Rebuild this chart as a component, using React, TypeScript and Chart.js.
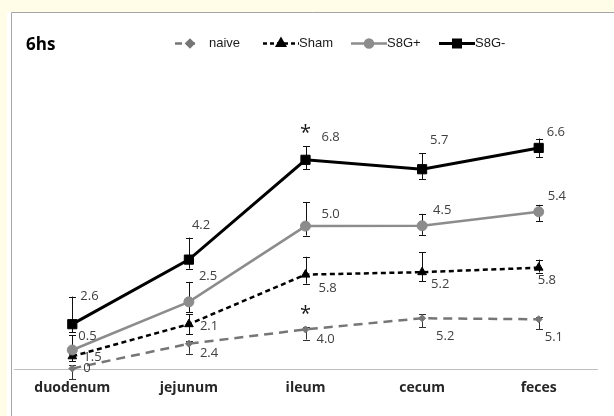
import React, { useEffect, useRef } from 'react';
import { Chart, registerables } from 'chart.js';
import { drawPoint } from 'chart.js/helpers';

Chart.register(...registerables);

const categories = ['duodenum', 'jejunum', 'ileum', 'cecum', 'feces'];

const naive = [0.02, 0.73, 1.14, 1.46, 1.43];
const sham = [0.37, 1.29, 2.71, 2.78, 2.91];
const s8gPlus = [0.55, 1.93, 4.1, 4.11, 4.51];
const s8gMinus = [1.29, 3.14, 6.0, 5.73, 6.34];

const naiveErrUp = [0.09, 0.09, 0.06, 0.11, 0.06];
const naiveErrDown = [0.31, 0.29, 0.29, 0.26, 0.29];
const shamErrUp = [0.14, 0.29, 0.51, 0.57, 0.23];
const shamErrDown = [0.14, 0.29, 0.26, 0.26, 0.14];
const s8gPlusErrUp = [0.43, 0.57, 0.69, 0.34, 0.2];
const s8gPlusErrDown = [0.11, 0.29, 0.27, 0.26, 0.26];
const s8gMinusErrUp = [0.79, 0.63, 0.39, 0.46, 0.27];
const s8gMinusErrDown = [0.23, 0.26, 0.27, 0.29, 0.27];

const naiveLabels = ['0', '2.4', '4.0', '5.2', '5.1'];
const shamLabels = ['1.5', '2.1', '5.8', '5.2', '5.8'];
const s8gPlusLabels = ['0.5', '2.5', '5.0', '4.5', '5.4'];
const s8gMinusLabels = ['2.6', '4.2', '6.8', '5.7', '6.6'];

const naiveSig = [false, false, true, false, false];
const s8gMinusSig = [false, false, true, false, false];

const title = '6hs';

// label placement (pixels relative to the point)
const labelOffsets: Record<string, [number, number][]> = {
  naive: [[11, 0], [11, 10], [11, 10], [14, 18], [6, 18]],
  Sham: [[11, 1], [11, 2], [13, 14], [9, 12], [-1, 13]],
  'S8G+': [[6, -14], [10, -26], [16, -12], [11, -15], [9, -16]],
  'S8G-': [[8, -28], [3, -34], [16, -23], [8, -29], [8, -16]],
};

const seriesDefs = [
  { label: 'naive', data: naive, up: naiveErrUp, down: naiveErrDown, text: naiveLabels, sig: naiveSig,
    color: '#767676', dash: [9, 6], width: 2.5, style: 'rectRot', radius: 3.5, legendDash: [7, 6], legendR: 3.5, textGap: 10 },
  { label: 'Sham', data: sham, up: shamErrUp, down: shamErrDown, text: shamLabels, sig: null,
    color: '#000000', dash: [5, 3.5], width: 2.5, style: 'triangle', radius: 5, legendDash: [4, 3], legendR: 4.5, textGap: 0 },
  { label: 'S8G+', data: s8gPlus, up: s8gPlusErrUp, down: s8gPlusErrDown, text: s8gPlusLabels, sig: null,
    color: '#8c8c8c', dash: [], width: 2.5, style: 'circle', radius: 5, legendDash: [], legendR: 4, textGap: 0 },
  { label: 'S8G-', data: s8gMinus, up: s8gMinusErrUp, down: s8gMinusErrDown, text: s8gMinusLabels, sig: s8gMinusSig,
    color: '#000000', dash: [], width: 3, style: 'rect', radius: 6.5, legendDash: [], legendR: 5, textGap: 0 },
];

const decorPlugin = {
  id: 'decor',
  beforeDraw(chart: any) {
    const { ctx, width, height } = chart;
    ctx.save();
    ctx.fillStyle = '#FFFDE8';
    ctx.fillRect(0, 0, width, height);
    ctx.fillStyle = '#ffffff';
    ctx.fillRect(7, 12, width - 7, height - 12);
    ctx.strokeStyle = '#a6a6a6';
    ctx.lineWidth = 1;
    ctx.beginPath();
    ctx.moveTo(11.5, height);
    ctx.lineTo(11.5, 12.5);
    ctx.lineTo(width, 12.5);
    ctx.stroke();
    // title
    ctx.fillStyle = '#000';
    ctx.font = 'bold 17px "Open Sans"';
    ctx.textBaseline = 'middle';
    ctx.textAlign = 'left';
    ctx.fillText(title, 26, 45);
    // legend
    const lineLen = 36;
    seriesDefs.forEach((s, i) => {
      const x0 = 175 + 88 * i;
      const y = 43.5;
      const len = i === 0 ? 24 : lineLen;
      ctx.strokeStyle = s.color;
      ctx.lineWidth = s.width;
      ctx.setLineDash(s.legendDash);
      ctx.beginPath();
      ctx.moveTo(x0, y);
      ctx.lineTo(x0 + len, y);
      ctx.stroke();
      ctx.setLineDash([]);
      ctx.fillStyle = s.color;
      ctx.strokeStyle = s.color;
      drawPoint(ctx, { pointStyle: s.style, radius: s.legendR, rotation: 0, borderWidth: 1 }, i === 0 ? x0 + 15 : x0 + lineLen / 2, y);
      ctx.fillStyle = '#1a1a1a';
      ctx.font = '13px "Liberation Sans"';
      ctx.textBaseline = 'middle';
      ctx.fillText(s.label, x0 + len + s.textGap, y);
    });
    ctx.restore();
  },
  beforeDatasetsDraw(chart: any) {
    const { ctx } = chart;
    const yScale = chart.scales.y;
    ctx.save();
    ctx.lineWidth = 1;
    seriesDefs.forEach((s, di) => {
      const meta = chart.getDatasetMeta(di);
      ctx.strokeStyle = di === 0 ? '#333333' : '#111111';
      meta.data.forEach((pt: any, i: number) => {
        const x = Math.round(pt.x) + 0.5;
        const yTop = yScale.getPixelForValue(s.data[i] + s.up[i]);
        const yBot = yScale.getPixelForValue(s.data[i] - s.down[i]);
        ctx.beginPath();
        ctx.moveTo(x, yTop);
        ctx.lineTo(x, yBot);
        ctx.moveTo(x - 3.5, Math.round(yTop) + 0.5);
        ctx.lineTo(x + 3.5, Math.round(yTop) + 0.5);
        ctx.moveTo(x - 3.5, Math.round(yBot) + 0.5);
        ctx.lineTo(x + 3.5, Math.round(yBot) + 0.5);
        ctx.stroke();
      });
    });
    ctx.restore();
  },
  afterDatasetsDraw(chart: any) {
    const { ctx } = chart;
    const yScale = chart.scales.y;
    ctx.save();
    ctx.textAlign = 'left';
    ctx.textBaseline = 'middle';
    seriesDefs.forEach((s, di) => {
      const meta = chart.getDatasetMeta(di);
      const offs = labelOffsets[s.label];
      meta.data.forEach((pt: any, i: number) => {
        ctx.font = '13px "Open Sans"';
        ctx.fillStyle = '#404040';
        ctx.fillText(s.text[i], pt.x + offs[i][0], pt.y + offs[i][1]);
        if (s.sig && s.sig[i]) {
          const yTop = yScale.getPixelForValue(s.data[i] + s.up[i]);
          ctx.font = '20px "Open Sans"';
          ctx.fillStyle = '#1a1a1a';
          ctx.textAlign = 'center';
          ctx.fillText('*', pt.x, yTop - 13);
          ctx.textAlign = 'left';
        }
      });
    });
    ctx.restore();
  },
};

export default function App() {
  const ref = useRef<HTMLCanvasElement | null>(null);
  useEffect(() => {
    if (!ref.current) return;
    const chart = new Chart(ref.current, {
      type: 'line',
      data: {
        labels: categories,
        datasets: seriesDefs.map((s, i) => ({
          label: s.label,
          data: s.data,
          borderColor: s.color,
          backgroundColor: s.color,
          borderWidth: s.width,
          borderDash: s.dash,
          pointStyle: s.style as any,
          pointRadius: s.radius,
          pointBorderWidth: 1,
          pointBackgroundColor: s.color,
          pointBorderColor: s.color,
          tension: 0,
          fill: false,
          clip: false as any,
          order: 10 - i,
        })),
      },
      options: {
        responsive: false,
        animation: false,
        layout: { padding: { left: 14, right: 17, top: 90, bottom: 10 } },
        plugins: {
          legend: { display: false },
          title: { display: false },
          tooltip: { enabled: false },
        },
        scales: {
          x: {
            offset: true,
            grid: { display: false, drawTicks: false },
            border: { display: true, color: '#bfbfbf', width: 1 },
            ticks: { padding: 10, color: '#262626', font: { family: '"Open Sans"', size: 14, weight: 'bold' } },
          },
          y: { display: false, min: 0, max: 8 },
        },
      },
      plugins: [decorPlugin],
    });
    return () => chart.destroy();
  }, []);
  return (
    <div style={{ position: 'fixed', left: 0, top: 0, width: 614, height: 416 }}>
      <canvas ref={ref} width={614} height={416} style={{ width: 614, height: 416, display: 'block' }} />
    </div>
  );
}
